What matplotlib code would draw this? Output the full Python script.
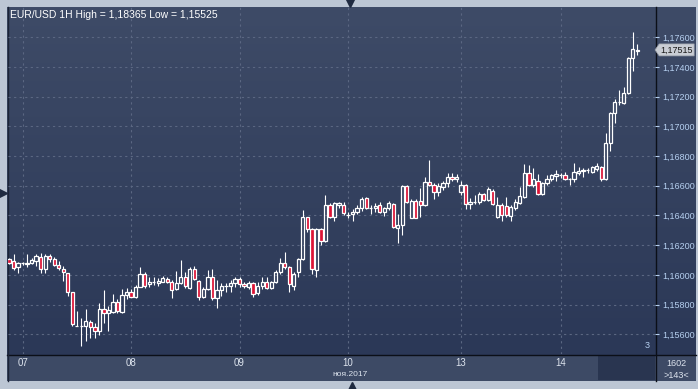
"""
EUR/USD 1H — свечной график 07-14 ноя 2017
"""

import numpy as np
import matplotlib.pyplot as plt
from matplotlib.patches import Rectangle, Polygon
from matplotlib.colors import LinearSegmentedColormap
from matplotlib.transforms import blended_transform_factory

# ─── Данные (часовые свечи) ──────────────────────────────────────────────────
opens = [
    1.16107, 1.16096, 1.16051, 1.16078, 1.16073, 1.16082, 1.16096, 1.16118, 1.16038, 1.16127,
    1.16105, 1.16065, 1.16042, 1.16011, 1.15883, 1.15656, 1.15656, 1.15656, 1.15683, 1.15647,
    1.15624, 1.15768, 1.15741, 1.15752, 1.15818, 1.15752, 1.15865, 1.15887, 1.15853, 1.15921,
    1.16004, 1.15939, 1.15949, 1.15944, 1.15955, 1.15973, 1.15950, 1.15903, 1.15944, 1.15988,
    1.15914, 1.16038, 1.15961, 1.15849, 1.15903, 1.15984, 1.15842, 1.15898, 1.15924, 1.15927,
    1.15943, 1.15970, 1.15939, 1.15921, 1.15943, 1.15876, 1.15927, 1.15950, 1.15910, 1.15950,
    1.16017, 1.16078, 1.16051, 1.15927, 1.16017, 1.16105, 1.16388, 1.16307, 1.16033, 1.16307,
    1.16230, 1.16471, 1.16392, 1.16471, 1.16471, 1.16405, 1.16410, 1.16426, 1.16449, 1.16516,
    1.16450, 1.16449, 1.16471, 1.16426, 1.16449, 1.16476, 1.16314, 1.16336, 1.16599, 1.16385,
    1.16500, 1.16500, 1.16471, 1.16628, 1.16605, 1.16560, 1.16594, 1.16617, 1.16661, 1.16644,
    1.16560, 1.16605, 1.16478, 1.16490, 1.16491, 1.16545, 1.16504, 1.16567, 1.16392, 1.16471,
    1.16464, 1.16397, 1.16449, 1.16487, 1.16527, 1.16688, 1.16605, 1.16634, 1.16545, 1.16617,
    1.16644, 1.16666, 1.16672, 1.16673, 1.16645, 1.16644, 1.16688, 1.16700, 1.16705, 1.16695,
    1.16711, 1.16729, 1.16644, 1.16886, 1.17088, 1.17164, 1.17160, 1.17223, 1.17459, 1.17510,
]
highs = [
    1.16114, 1.16139, 1.16087, 1.16087, 1.16139, 1.16114, 1.16141, 1.16147, 1.16141, 1.16141,
    1.16121, 1.16094, 1.16060, 1.16013, 1.15885, 1.15757, 1.15710, 1.15770, 1.15696, 1.15676,
    1.15811, 1.15898, 1.15791, 1.15872, 1.15837, 1.15903, 1.15914, 1.15903, 1.15932, 1.16055,
    1.16022, 1.15987, 1.15984, 1.15979, 1.15993, 1.15986, 1.15966, 1.16028, 1.16100, 1.16022,
    1.16053, 1.16060, 1.15966, 1.15916, 1.16033, 1.16038, 1.15966, 1.15943, 1.15948, 1.15966,
    1.15984, 1.15984, 1.15952, 1.15959, 1.15952, 1.15955, 1.15984, 1.15984, 1.15961, 1.16033,
    1.16111, 1.16156, 1.16060, 1.16020, 1.16111, 1.16437, 1.16392, 1.16316, 1.16316, 1.16314,
    1.16538, 1.16482, 1.16493, 1.16493, 1.16489, 1.16426, 1.16442, 1.16471, 1.16527, 1.16527,
    1.16471, 1.16486, 1.16489, 1.16460, 1.16500, 1.16482, 1.16410, 1.16605, 1.16605, 1.16509,
    1.16509, 1.16583, 1.16661, 1.16774, 1.16619, 1.16617, 1.16634, 1.16688, 1.16688, 1.16679,
    1.16634, 1.16612, 1.16518, 1.16538, 1.16560, 1.16552, 1.16590, 1.16576, 1.16527, 1.16486,
    1.16523, 1.16471, 1.16509, 1.16594, 1.16747, 1.16741, 1.16718, 1.16679, 1.16626, 1.16673,
    1.16679, 1.16706, 1.16685, 1.16695, 1.16652, 1.16752, 1.16729, 1.16718, 1.16718, 1.16733,
    1.16756, 1.16733, 1.16954, 1.17097, 1.17182, 1.17245, 1.17267, 1.17467, 1.17638, 1.17555,
]
lows = [
    1.16073, 1.16033, 1.16016, 1.16067, 1.16055, 1.16073, 1.16060, 1.16015, 1.16013, 1.16087,
    1.16060, 1.16033, 1.15961, 1.15858, 1.15656, 1.15653, 1.15521, 1.15555, 1.15575, 1.15575,
    1.15595, 1.15676, 1.15622, 1.15744, 1.15741, 1.15741, 1.15836, 1.15849, 1.15845, 1.15919,
    1.15910, 1.15921, 1.15932, 1.15925, 1.15950, 1.15946, 1.15845, 1.15898, 1.15939, 1.15914,
    1.15905, 1.15966, 1.15831, 1.15845, 1.15898, 1.15831, 1.15777, 1.15858, 1.15887, 1.15887,
    1.15921, 1.15921, 1.15912, 1.15903, 1.15853, 1.15865, 1.15905, 1.15903, 1.15905, 1.15946,
    1.16006, 1.16040, 1.15887, 1.15898, 1.15984, 1.16100, 1.16291, 1.16006, 1.15988, 1.16201,
    1.16222, 1.16381, 1.16365, 1.16449, 1.16404, 1.16381, 1.16365, 1.16410, 1.16433, 1.16442,
    1.16410, 1.16426, 1.16415, 1.16397, 1.16437, 1.16314, 1.16217, 1.16269, 1.16482, 1.16381,
    1.16381, 1.16392, 1.16464, 1.16599, 1.16511, 1.16531, 1.16572, 1.16590, 1.16634, 1.16628,
    1.16538, 1.16444, 1.16444, 1.16478, 1.16478, 1.16498, 1.16498, 1.16471, 1.16381, 1.16365,
    1.16392, 1.16365, 1.16437, 1.16478, 1.16518, 1.16599, 1.16594, 1.16538, 1.16538, 1.16605,
    1.16634, 1.16634, 1.16651, 1.16639, 1.16605, 1.16626, 1.16673, 1.16657, 1.16688, 1.16688,
    1.16702, 1.16634, 1.16639, 1.16836, 1.17021, 1.17144, 1.17151, 1.17219, 1.17375, 1.17481,
]
closes = [
    1.16080, 1.16044, 1.16078, 1.16082, 1.16082, 1.16100, 1.16127, 1.16038, 1.16127, 1.16107,
    1.16067, 1.16047, 1.16018, 1.15883, 1.15667, 1.15659, 1.15659, 1.15688, 1.15647, 1.15624,
    1.15768, 1.15741, 1.15764, 1.15818, 1.15755, 1.15865, 1.15887, 1.15853, 1.15921, 1.16004,
    1.15925, 1.15955, 1.15951, 1.15957, 1.15977, 1.15950, 1.15898, 1.15948, 1.15988, 1.15927,
    1.16038, 1.15973, 1.15849, 1.15903, 1.15984, 1.15842, 1.15898, 1.15925, 1.15926, 1.15943,
    1.15970, 1.15939, 1.15925, 1.15943, 1.15869, 1.15927, 1.15950, 1.15910, 1.15950, 1.16017,
    1.16078, 1.16051, 1.15939, 1.16006, 1.16105, 1.16388, 1.16307, 1.16038, 1.16307, 1.16230,
    1.16471, 1.16392, 1.16486, 1.16482, 1.16415, 1.16403, 1.16426, 1.16449, 1.16509, 1.16449,
    1.16448, 1.16464, 1.16426, 1.16449, 1.16482, 1.16321, 1.16336, 1.16599, 1.16493, 1.16500,
    1.16385, 1.16471, 1.16628, 1.16605, 1.16560, 1.16599, 1.16617, 1.16661, 1.16644, 1.16657,
    1.16605, 1.16478, 1.16493, 1.16492, 1.16545, 1.16504, 1.16576, 1.16478, 1.16471, 1.16403,
    1.16403, 1.16455, 1.16493, 1.16531, 1.16688, 1.16605, 1.16644, 1.16545, 1.16617, 1.16644,
    1.16673, 1.16679, 1.16674, 1.16644, 1.16643, 1.16695, 1.16700, 1.16706, 1.16707, 1.16725,
    1.16733, 1.16644, 1.16886, 1.17088, 1.17166, 1.17167, 1.17227, 1.17459, 1.17519, 1.17515,
]

day_first_bar = [3, 27, 51, 75, 100, 122]
day_labels    = ["07", "08", "09", "10", "13", "14"]
price_ticks   = [1.156, 1.158, 1.160, 1.162, 1.164, 1.166, 1.168, 1.170, 1.172, 1.174, 1.176]

title_txt  = "EUR/USD 1H High = 1,18365 Low = 1,15525"
month_txt  = "ноя.2017"

# ─── Цвета ───────────────────────────────────────────────────────────────────
FRAME   = "#bcc6d4"
TOP     = "#3e4b67"
BOTTOM  = "#2b3857"
BAR     = "#3d4a65"
DARKBOX = "#293550"
GRID    = "#5b6782"
RED     = "#dc1436"
AXTXT   = "#b6d0f0"
XTXT    = "#dde4ee"

plt.rcParams["font.family"] = ["Liberation Sans", "DejaVu Sans"]

W, H = 698, 389
fig = plt.figure(figsize=(W / 100, H / 100), dpi=100, facecolor=FRAME)

# ─── Фон панели (в пикселях) ─────────────────────────────────────────────────
bg = fig.add_axes([0, 0, 1, 1])
grad = np.linspace(0, 1, 256)[:, None]
bg.imshow(grad, extent=(7, 696, 355, 7), aspect="auto",
          cmap=LinearSegmentedColormap.from_list("pan", [TOP, BOTTOM]))
bg.add_patch(Rectangle((7, 355), 649, 26, color=BAR, lw=0))
bg.add_patch(Rectangle((598, 356), 57, 24, color=DARKBOX, lw=0))
bg.add_patch(Rectangle((656, 355), 40, 26, color=BAR, lw=0))
bg.plot([655.5, 655.5], [7, 381], color="#0b0f18", lw=1)
bg.plot([7, 696], [354.5, 354.5], color="#0b0f18", lw=1)
bg.plot([7.5, 7.5], [7, 381], color="#1c2436", lw=1)
bg.plot(350, 2.5, marker="v", ms=6, color="#1f2a40")
bg.plot(352, 386, marker="^", ms=6, color="#1f2a40")
bg.plot(3, 193, marker=">", ms=6, color="#1f2a40")
bg.set_xlim(0, W)
bg.set_ylim(H, 0)
bg.axis("off")

# ─── Основной график ─────────────────────────────────────────────────────────
ax = fig.add_axes([8 / W, (H - 354) / H, 647 / W, 347 / H])
ax.set_facecolor("none")

o = np.array(opens); c = np.array(closes)
hi = np.array(highs); lo = np.array(lows)
x = np.arange(len(o))
top = np.maximum(o, c)
bot = np.minimum(o, c)
up = c >= o

ax.vlines(x, top, hi, color="white", lw=0.8, zorder=3)
ax.vlines(x, lo, bot, color="white", lw=0.8, zorder=3)
ax.bar(x[up], (top - bot)[up], bottom=bot[up], width=0.72,
       facecolor="none", edgecolor="white", lw=0.9, zorder=4)
ax.bar(x[~up], (top - bot)[~up], bottom=bot[~up], width=0.72,
       facecolor=RED, edgecolor="white", lw=0.9, zorder=4)

ax.set_xlim(-0.22, 142.9)
ax.set_ylim(1.154673, 1.17804)

ax.set_xticks(day_first_bar)
ax.set_xticklabels(day_labels)
ax.set_yticks(price_ticks)
ax.set_yticklabels([f"{v:.5f}".replace(".", ",") for v in price_ticks])
ax.yaxis.tick_right()
ax.tick_params(axis="x", length=0, pad=3, labelsize=7, labelcolor=XTXT)
ax.tick_params(axis="y", length=3, width=0.8, color=AXTXT, pad=2,
               labelsize=6.5, labelcolor=AXTXT)
ax.grid(True, color=GRID, linestyle=(0, (2, 3)), lw=0.8)
for s in ax.spines.values():
    s.set_visible(False)

# метка текущей цены
last = closes[-1]
tr = blended_transform_factory(ax.transAxes, ax.transData)
dy = (1.17804 - 1.154673) / 347 * 6
tag = Polygon([(1.0, last), (1.0065, last + dy), (1.0605, last + dy),
               (1.0605, last - dy), (1.0065, last - dy)],
              closed=True, transform=tr, clip_on=False,
              facecolor="#c9cdd4", edgecolor="#9aa0aa", lw=0.5, zorder=6)
ax.add_patch(tag)
ax.text(1.034, last, f"{last:.5f}".replace(".", ","), transform=tr,
        ha="center", va="center", fontsize=6.5, color="#1a1a1a",
        clip_on=False, zorder=7)

# ─── Тексты ──────────────────────────────────────────────────────────────────
fig.text(10 / W, 1 - 15 / H, title_txt, fontsize=7.5, color="white", va="center")
fig.text(350 / W, 1 - 374 / H, month_txt, fontsize=6, color=XTXT,
         ha="center", va="center")
fig.text(676 / W, 1 - 364 / H, "1602", fontsize=6.5, color=XTXT,
         ha="center", va="center")
fig.text(676 / W, 1 - 375 / H, ">143<", fontsize=6.5, color=XTXT,
         ha="center", va="center")
fig.text(647 / W, 1 - 346 / H, "3", fontsize=6.5, color=AXTXT,
         ha="center", va="center")

fig.savefig("out.png", dpi=100, facecolor=fig.get_facecolor())
